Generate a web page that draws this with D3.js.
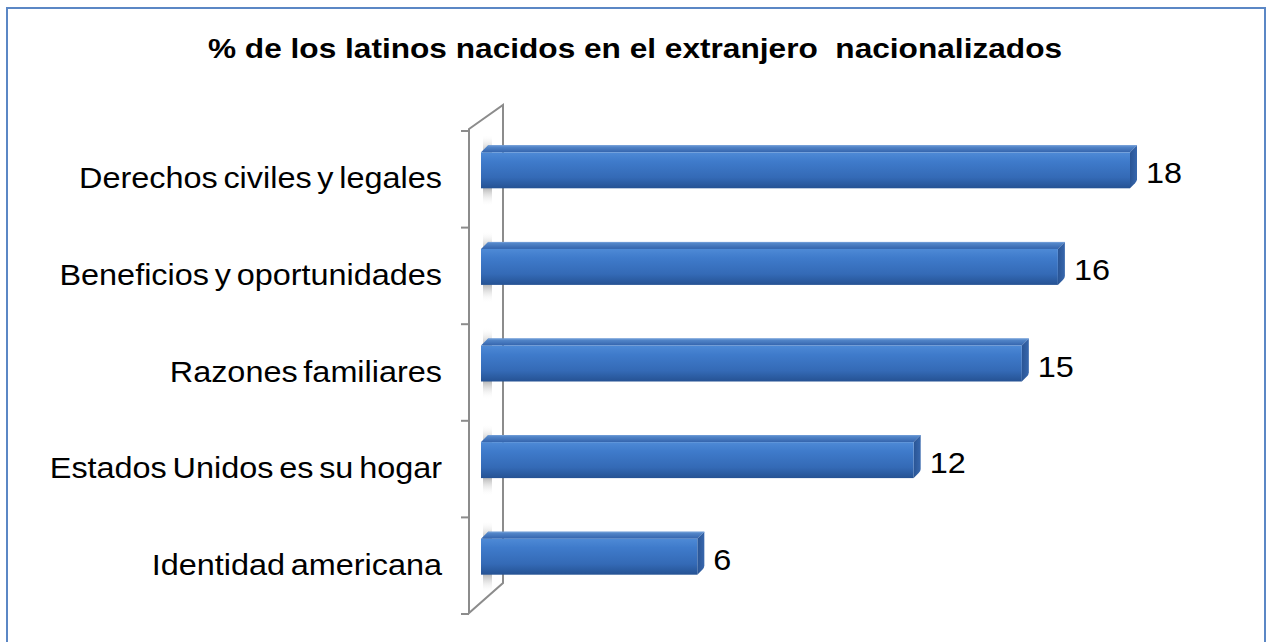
<!DOCTYPE html>
<html><head><meta charset="utf-8">
<script src="https://cdn.jsdelivr.net/npm/d3@7"></script>
<style>html,body{margin:0;padding:0;background:#fff;overflow:hidden}</style>
</head><body><svg id="c" width="1268" height="642"></svg>
<script>
const title = "% de los latinos nacidos en el extranjero  nacionalizados";
const categories = ["Derechos civiles y legales","Beneficios y oportunidades","Razones familiares","Estados Unidos es su hogar","Identidad americana"];
const values = [18,16,15,12,6];

const svg = d3.select("#c");
const defs = svg.append("defs");
const gf = defs.append("linearGradient").attr("id","front").attr("x1",0).attr("y1",0).attr("x2",0).attr("y2",1);
[[0,"#4e8ad6"],[0.25,"#3f7bcb"],[0.7,"#346ab6"],[1,"#255293"]].forEach(s=>gf.append("stop").attr("offset",s[0]).attr("stop-color",s[1]));
const gt = defs.append("linearGradient").attr("id","top").attr("x1",0).attr("y1",0).attr("x2",0).attr("y2",1);
[[0,"#5b8fd0"],[1,"#3464ad"]].forEach(s=>gt.append("stop").attr("offset",s[0]).attr("stop-color",s[1]));
const gs = defs.append("linearGradient").attr("id","side").attr("x1",0).attr("y1",0).attr("x2",1).attr("y2",0);
[[0,"#2a5595"],[1,"#3767ad"]].forEach(s=>gs.append("stop").attr("offset",s[0]).attr("stop-color",s[1]));
const gsh = defs.append("linearGradient").attr("id","shadow").attr("x1",0).attr("y1",0).attr("x2",0).attr("y2",1);
[[0,"#ffffff",0],[0.3,"#8a8a8a",0.85],[0.7,"#8a8a8a",0.85],[1,"#ffffff",0]].forEach(s=>gsh.append("stop").attr("offset",s[0]).attr("stop-color",s[1]).attr("stop-opacity",s[2]));

// frame
svg.append("rect").attr("x",7).attr("y",8).attr("width",1258).attr("height",660)
  .attr("fill","none").attr("stroke","#5b87c5").attr("stroke-width",2);

svg.append("text").attr("transform","translate(635,58) scale(1.13,1)").attr("text-anchor","middle")
  .attr("font-family","Liberation Sans, Arial, sans-serif").attr("font-weight","bold")
  .attr("font-size",28).attr("fill","#000").style("white-space","pre").text(title);

const x = d3.scaleLinear().domain([0,18]).range([481,1130]);
const y = d3.scaleBand().domain(categories).range([131,614]).padding(0);

// wall
const wall = svg.append("g").attr("stroke","#8c8c8c").attr("stroke-width",2).attr("fill","none");
wall.append("path").attr("d","M469,129 L503,105 L503,583 L469,613 Z").attr("fill","#fff");
const tickVals = categories.map(c=>y(c)).concat([y.range()[1]]);
wall.selectAll("line.t").data(tickVals).join("line").attr("class","t")
  .attr("x1",461).attr("x2",469).attr("y1",d=>d).attr("y2",d=>d);

const bh = 36, dep = 7;
const g = svg.append("g");
categories.forEach((c,i)=>{
  const cy = y(c) + y.bandwidth()/2;
  const top = cy - 27, bot = top + bh;
  const x0 = x(0), x1 = x(values[i]);
  g.append("rect").attr("x",483).attr("y",top-18).attr("width",9).attr("height",bh+36).attr("fill","url(#shadow)");
  g.append("path").attr("d",`M${x0},${top} L${x0+dep},${top-dep} L${x1+dep},${top-dep} L${x1},${top} Z`).attr("fill","url(#top)");
  g.append("path").attr("d",`M${x1},${top} L${x1+dep},${top-dep} L${x1+dep},${bot-dep-2} Q${x1+dep},${bot-dep} ${x1+dep-2},${bot-dep+2} L${x1},${bot} Z`).attr("fill","url(#side)");
  g.append("rect").attr("x",x0).attr("y",top).attr("width",x1-x0).attr("height",bh).attr("fill","url(#front)");
  g.append("line").attr("x1",x0+dep).attr("x2",x1+dep).attr("y1",top-dep+0.5).attr("y2",top-dep+0.5).attr("stroke","#6f9bd6").attr("stroke-width",1);
  g.append("text").attr("transform",`translate(${x1+dep+9},${cy+4}) scale(1.08,1)`).attr("font-family","Liberation Sans, Arial, sans-serif")
    .attr("font-size",30).attr("fill","#000").text(values[i]);
});

svg.append("g").selectAll("text").data(categories).join("text")
  .attr("transform",d=>`translate(442,${y(d)+y.bandwidth()/2+9}) scale(1.08,1)`).attr("text-anchor","end")
  .attr("font-family","Liberation Sans, Arial, sans-serif").attr("font-size",30).attr("fill","#000")
  .attr("word-spacing",-3).text(d=>d);
</script></body></html>
